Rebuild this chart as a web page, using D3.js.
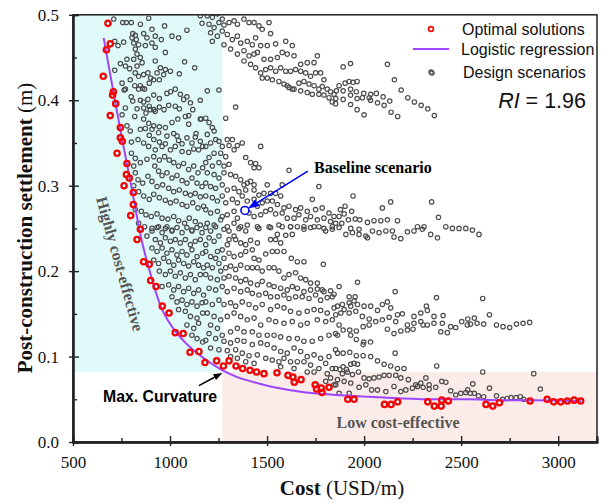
<!DOCTYPE html>
<html>
<head>
<meta charset="utf-8">
<script src="https://cdn.jsdelivr.net/npm/d3@7"></script>
<style>
body { margin: 0; background: #fff; }
svg { display: block; }
</style>
</head>
<body>
<div id="chart"></div>
<script>
// Optimal solutions (red rings), [cost USD/m, settlement m]
var optimalSolutions = [
  [680,0.490],[692,0.466],[672,0.459],[656,0.428],[708,0.410],[704,0.406],[720,0.396],[692,0.382],
  [744,0.368],[744,0.356],[754,0.352],[727,0.338],[778,0.326],[775,0.313],[790,0.309],[763,0.300],
  [811,0.292],[811,0.278],[797,0.265],[847,0.249],[830,0.237],[864,0.211],[893,0.208],[900,0.189],
  [928,0.182],[960,0.159],[995,0.151],[1027,0.128],[1068,0.127],[1103,0.105],[1149,0.106],[1180,0.093],
  [1240,0.095],[1275,0.089],[1304,0.095],[1340,0.089],[1374,0.086],[1412,0.084],[1446,0.082],[1484,0.080],
  [1551,0.081],[1608,0.078],[1633,0.076],[1640,0.070],[1675,0.073],[1748,0.067],[1755,0.062],[1779,0.063],
  [1783,0.058],[1819,0.064],[1916,0.050],[1948,0.050],[2105,0.044],[2139,0.044],[2173,0.047],[2328,0.047],
  [2362,0.042],[2397,0.042],[2400,0.049],[2434,0.048],[2628,0.044],[2663,0.042],[2697,0.046],[2855,0.048],
  [2943,0.050],[2977,0.047],[3013,0.047],[3047,0.048],[3082,0.049],[3116,0.048]
];

// Logistic regression curve
var regressionCost = [658, 700, 750, 800, 850, 900, 950, 1010, 1080, 1175, 1278, 1347, 1433, 1518, 1639, 1742, 1855, 2026, 2197, 2369, 2534, 2706, 2877, 3118];
var regressionSettlement = [0.473, 0.420, 0.358, 0.300, 0.240, 0.196, 0.160, 0.135, 0.116, 0.098, 0.083, 0.076, 0.070, 0.065, 0.060, 0.057, 0.055, 0.053, 0.051, 0.050, 0.050, 0.049, 0.049, 0.048];

// Design scenarios (grey rings), grouped by area of the plot
var designTopBand = [
  [1192,0.499],[1218,0.497],[1244,0.501],[1269,0.495],[1201,0.489],[1227,0.485],[1252,0.491],[1278,0.488],
  [1304,0.491],[1330,0.493],[1347,0.489],[1381,0.495],[1407,0.491],[1433,0.491],[1458,0.487],[1475,0.483],
  [1510,0.491],[1518,0.478],[1209,0.479],[1244,0.475],[1269,0.481],[1295,0.477],[1321,0.471],[1347,0.475],
  [1364,0.467],[1398,0.469],[1424,0.465],[1441,0.473],[1467,0.464],[1501,0.464],[1544,0.466],[1596,0.469],
  [1630,0.464],[1218,0.469],[1278,0.465],[1312,0.460],[1347,0.454],[1381,0.458],[1407,0.452],[1433,0.454],
  [1450,0.456],[1484,0.448],[1518,0.448],[1553,0.450],[1578,0.456],[1604,0.454],[1639,0.452],[1673,0.442],
  [1707,0.444],[1742,0.444],[1759,0.452],[1381,0.446],[1415,0.442],[1441,0.438],[1467,0.432],[1493,0.436],
  [1518,0.438],[1544,0.434],[1570,0.438],[1596,0.434],[1621,0.434],[1647,0.436],[1673,0.434],[1699,0.432],
  [1724,0.428],[1750,0.432],[1776,0.432],[1793,0.424],[1475,0.426],[1501,0.426],[1527,0.424],[1561,0.422],
  [1587,0.419],[1613,0.415],[1639,0.413],[1664,0.420],[1690,0.422],[1716,0.419],[1742,0.417],[1767,0.413],
  [1784,0.416],[1810,0.413],[1827,0.410],[1845,0.407],[1604,0.417],[1630,0.413],[1673,0.411],[1707,0.409],
  [1733,0.407],[1767,0.407],[1793,0.406],[1819,0.403],[1836,0.398],[1853,0.396],
  [1192,0.411],[1252,0.412],[1338,0.392],[1287,0.379],
  [1892,0.439],[1930,0.443],[2120,0.442],[2345,0.433],[1871,0.417],[1902,0.420],[1923,0.422],[1943,0.421],
  [1964,0.422],[1857,0.411],[1892,0.411],[1930,0.413],[1960,0.410],[1998,0.408],[2034,0.407],[2063,0.408],
  [2098,0.404],[2132,0.399],[2156,0.424],[2191,0.412],[1854,0.402],[1892,0.401],[1930,0.406],[1964,0.402],
  [1991,0.403],[2026,0.403],[2033,0.400],[2069,0.397],[2103,0.394],[1930,0.395],[1964,0.389],[2000,0.383],
  [2139,0.386],[2173,0.381],[2225,0.403],[2259,0.398],[2294,0.394],[2328,0.390],[2362,0.382]
];

var designLeftCluster = [
  [710,0.495],[756,0.491],[775,0.491],[800,0.491],[847,0.489],[890,0.496],[972,0.487],[1087,0.482],[1156,0.499],[1165,0.490],
  [808,0.478],[821,0.476],[804,0.473],[826,0.471],[864,0.478],[907,0.483],[924,0.475],[955,0.471],[881,0.473],[907,0.467],
  [873,0.464],[838,0.465],[761,0.468],[732,0.464],[715,0.469],[813,0.467],[924,0.462],[1010,0.475],[1044,0.473],[976,0.456],
  [821,0.460],[830,0.454],[813,0.448],[847,0.450],[856,0.444],[830,0.440],
  [715,0.435],[744,0.443],[778,0.448],[770,0.440],[792,0.437],[821,0.432],[838,0.428],[864,0.430],[886,0.432],[900,0.426],
  [916,0.424],[893,0.420],[924,0.446],[950,0.438],[976,0.436],[1002,0.434],[967,0.430],[933,0.432],[945,0.424],[1048,0.431],
  [1075,0.445],[1127,0.438],[753,0.420],[795,0.424],[818,0.417],[847,0.417],[869,0.413],[838,0.413],[770,0.413],[764,0.412],
  [800,0.404],[859,0.414],[916,0.406],[945,0.402],[984,0.408],[1003,0.410],[1027,0.413],[1053,0.407],[1070,0.401],[1087,0.404],
  [1105,0.397],[1117,0.389],[1156,0.400],[1161,0.378],
  [808,0.399],[847,0.400],[864,0.398],[886,0.401],[893,0.393],[916,0.389],[945,0.392],[969,0.389],[993,0.394],[1027,0.393],
  [1048,0.390],[1079,0.381],[1096,0.382],[898,0.389],[924,0.387],[876,0.385],[864,0.391],[830,0.390],[770,0.391],[753,0.383],
  [818,0.381],[864,0.378],[890,0.373],[916,0.370],[945,0.369],[976,0.368],[1010,0.374],[1040,0.378],[1096,0.372],[1134,0.361],[1156,0.378],
  [778,0.370],[795,0.364],[847,0.366],[873,0.367],[907,0.366],[893,0.359],[941,0.362],[984,0.358],[1019,0.361],[1036,0.358],
  [1044,0.353],[1062,0.349],[1087,0.356],[1113,0.350],[1130,0.357],[1156,0.352],[916,0.354],[945,0.351],[959,0.346],[976,0.349],
  [1002,0.342],[1027,0.346],[1062,0.340],[1096,0.339],[1122,0.343],[1147,0.342],[1168,0.346],[801,0.351],[835,0.354],[864,0.350],
  [890,0.346],[924,0.342],
  [801,0.338],[821,0.332],[847,0.327],[881,0.331],[916,0.334],[945,0.330],[972,0.334],[996,0.330],[1019,0.327],[1044,0.323],
  [1070,0.326],[1096,0.319],[1122,0.323],[1144,0.315],[1168,0.321],[921,0.323],[941,0.317],[959,0.312],[984,0.315],[1010,0.309],
  [1036,0.312],[1062,0.306],[1087,0.303],[1113,0.309],[1139,0.303],[1165,0.299],[813,0.323],[821,0.315],[835,0.307],[859,0.303],
  [886,0.311],[907,0.305],[933,0.299],[962,0.301],[993,0.297],[1019,0.293],[1048,0.295],[1079,0.291],[1105,0.289],[1130,0.291],[1156,0.287],
  [813,0.300],[838,0.293],[864,0.288],[893,0.284],[916,0.290],[945,0.286],[976,0.283],[1002,0.280],[1031,0.282],[1062,0.278],
  [1087,0.276],[1117,0.280],[1144,0.274],[1173,0.276],[821,0.272],[852,0.270],[876,0.266],[903,0.264],[933,0.267],[959,0.262],
  [989,0.261],[1019,0.264],[1044,0.259],[1075,0.256],[1099,0.262],[1130,0.258],[1156,0.254],[838,0.256],[869,0.252],[907,0.250],
  [941,0.252],[976,0.250],[1010,0.248],[1113,0.248],
  [881,0.241],[907,0.247],[933,0.251],[959,0.245],[984,0.252],[1010,0.247],[1036,0.251],[1062,0.245],[1087,0.251],[1113,0.247],
  [1139,0.251],[1165,0.245],[924,0.237],[950,0.233],[976,0.239],[1002,0.235],[1027,0.237],[1053,0.233],[1079,0.237],[1105,0.231],
  [1130,0.235],[1156,0.237],[907,0.227],[933,0.223],[959,0.227],[984,0.221],[1010,0.225],[1036,0.219],[1062,0.223],[1087,0.219],
  [1113,0.225],[1139,0.217],[1168,0.221],[916,0.213],[941,0.209],[967,0.215],[993,0.211],[1019,0.207],[1044,0.213],[1070,0.209],
  [1096,0.206],[1122,0.211],[1147,0.207],[1173,0.204],[945,0.200],[976,0.196],[1002,0.200],[1027,0.194],[1053,0.198],[1079,0.192],
  [1105,0.196],[1130,0.190],[1156,0.196],[959,0.182],[993,0.184],[1019,0.178],[1044,0.182],[1070,0.176],[1096,0.180],[1122,0.174],
  [1147,0.178],[1173,0.172],[1010,0.170],[1036,0.164],[1062,0.166],[1087,0.161],[1113,0.164],[1139,0.159],[1165,0.163],
  [1044,0.155],[1079,0.153],[1105,0.147],[1139,0.145],[1168,0.151],[1087,0.137],[1122,0.133],[1147,0.139],
  [1113,0.125],[1139,0.121],[1168,0.117]
];

var designCentreBand = [
  [1184,0.379],[1201,0.374],[1218,0.368],[1192,0.360],[1227,0.364],[1235,0.354],[1209,0.350],[1184,0.346],[1252,0.352],[1269,0.346],
  [1295,0.354],[1321,0.354],[1304,0.347],[1330,0.342],[1347,0.347],[1372,0.350],[1467,0.346],[1261,0.338],[1287,0.334],[1227,0.338],
  [1201,0.333],[1184,0.327],[1218,0.323],[1252,0.327],[1278,0.323],[1304,0.325],[1390,0.333],[1415,0.327],[1441,0.326],[1458,0.321],
  [1433,0.321],[1192,0.315],[1227,0.313],[1252,0.309],[1278,0.315],[1312,0.313],[1338,0.311],[1364,0.307],[1398,0.303],[1381,0.301],
  [1415,0.305],[1433,0.301],[1613,0.318],[1184,0.303],[1209,0.299],[1235,0.297],[1269,0.301],[1295,0.295],[1330,0.297],[1355,0.293],
  [1390,0.295],[1433,0.295],[1458,0.289],[1484,0.291],[1501,0.301],[1518,0.291],[1544,0.291],[1570,0.288],[1578,0.301],[1767,0.299],
  [1184,0.288],[1218,0.286],[1244,0.282],[1269,0.288],[1287,0.280],[1321,0.284],[1347,0.280],[1372,0.288],[1398,0.282],[1433,0.284],
  [1450,0.276],[1475,0.280],[1501,0.282],[1527,0.282],[1553,0.278],[1587,0.274],[1613,0.276],[1647,0.272],[1673,0.274],[1707,0.270],
  [1733,0.284],[1750,0.272],[1784,0.274],[1819,0.268],[1845,0.264],[1184,0.272],[1209,0.268],[1244,0.270],[1269,0.264],[1295,0.266],
  [1330,0.270],[1347,0.262],[1407,0.268],[1433,0.264],[1467,0.266],[1493,0.270],[1518,0.272],[1544,0.267],[1578,0.268],[1604,0.262],
  [1639,0.262],[1664,0.266],[1699,0.260],[1724,0.264],[1759,0.260],[1793,0.262],[1827,0.258],[1853,0.256],[1192,0.256],[1227,0.254],
  [1261,0.260],[1295,0.252],[1330,0.256],[1364,0.252],[1398,0.254],[1458,0.250],[1510,0.252],[1561,0.254],[1621,0.252],[1690,0.252],
  [1742,0.252],[1793,0.250],[1836,0.252],
  [1943,0.288],[1878,0.272],[1902,0.276],[1936,0.270],[1871,0.264],[1897,0.267],[1919,0.260],[1954,0.261],[1978,0.260],[1885,0.256],
  [2017,0.257],[2051,0.259],[2086,0.259],[2120,0.260],[2137,0.281],[2094,0.274],[2172,0.259],[2348,0.281],[2383,0.263],
  [1184,0.251],[1209,0.247],[1235,0.252],[1201,0.239],[1227,0.235],[1184,0.231],[1252,0.241],[1278,0.249],[1304,0.247],[1330,0.241],
  [1355,0.250],[1390,0.247],[1450,0.252],[1518,0.251],[1553,0.243],[1596,0.242],[1630,0.243],[1578,0.252],[1621,0.252],[1656,0.252],
  [1690,0.249],[1724,0.251],[1767,0.252],[1802,0.247],[1836,0.249],[1304,0.237],[1338,0.237],[1364,0.233],[1390,0.231],[1415,0.236],
  [1450,0.233],[1518,0.237],[1544,0.237],[1570,0.233],[1295,0.231],[1269,0.225],[1244,0.223],
  [1184,0.223],[1209,0.217],[1235,0.215],[1192,0.207],[1218,0.204],[1252,0.209],[1278,0.215],[1304,0.221],[1330,0.217],[1364,0.219],
  [1390,0.223],[1424,0.225],[1433,0.215],[1458,0.213],[1493,0.220],[1527,0.223],[1553,0.223],[1587,0.223],[1625,0.215],[1656,0.211],
  [1690,0.211],[1790,0.208],[1261,0.200],[1287,0.204],[1312,0.206],[1338,0.202],[1364,0.207],[1398,0.204],[1424,0.204],[1450,0.204],
  [1475,0.200],[1510,0.204],[1536,0.204],[1561,0.200],[1587,0.192],[1613,0.196],[1647,0.198],[1673,0.192],[1699,0.190],[1724,0.186],
  [1759,0.186],[1784,0.178],[1827,0.177],[1184,0.196],[1209,0.192],[1244,0.190],[1278,0.192],[1304,0.194],[1338,0.192],[1364,0.188],
  [1390,0.190],[1415,0.186],[1450,0.184],[1475,0.188],[1510,0.184],[1536,0.182],[1570,0.180],[1604,0.178],[1630,0.182],[1656,0.180],
  [1690,0.176],[1724,0.178],[1759,0.179],[1793,0.176],[1836,0.170],[1201,0.180],[1235,0.178],[1269,0.182],[1295,0.176],[1330,0.180],
  [1364,0.176],[1398,0.178],[1424,0.174],[1458,0.172],[1493,0.174],[1518,0.170],[1553,0.170],[1587,0.172],[1613,0.168],[1647,0.170],
  [1681,0.170],[1716,0.168],[1750,0.172],[1776,0.166],[1810,0.169],[1845,0.173],
  [1184,0.164],[1218,0.161],[1252,0.166],[1278,0.161],[1312,0.163],[1338,0.159],[1372,0.164],[1407,0.161],[1441,0.157],[1475,0.161],
  [1518,0.155],[1553,0.159],[1587,0.157],[1621,0.153],[1664,0.151],[1707,0.153],[1742,0.155],[1776,0.154],[1810,0.151],[1845,0.157],
  [1192,0.151],[1227,0.147],[1261,0.143],[1295,0.147],[1330,0.151],[1364,0.147],[1398,0.143],[1433,0.145],[1467,0.137],[1510,0.143],
  [1544,0.141],[1587,0.139],[1630,0.141],[1673,0.137],[1707,0.139],[1759,0.143],[1802,0.141],[1836,0.143],
  [1209,0.137],[1244,0.133],[1201,0.127],[1235,0.121],[1269,0.125],[1312,0.129],[1347,0.133],[1381,0.129],[1424,0.129],[1458,0.125],
  [1501,0.125],[1536,0.125],[1570,0.123],[1613,0.121],[1656,0.121],[1690,0.118],[1733,0.118],[1776,0.121],[1819,0.125],[1853,0.127],
  [1184,0.119],[1278,0.118],[1312,0.116],[1347,0.119],[1381,0.118],[1424,0.114],[1467,0.116],[1501,0.114],[1536,0.110],[1570,0.106],
  [1604,0.104],[1639,0.110],[1673,0.106],[1707,0.100],[1742,0.102],[1776,0.098],[1819,0.100],[1853,0.108],[1209,0.110],[1252,0.108],
  [1295,0.107],[1338,0.108],[1372,0.104],[1407,0.101],[1450,0.102],[1493,0.098],[1527,0.096],[1561,0.094],[1587,0.098],[1621,0.094],
  [1656,0.094],[1690,0.094],[1724,0.090],[1767,0.086],[1802,0.092],[1836,0.086],[1312,0.100],[1347,0.098],[1390,0.094],[1433,0.092],
  [1570,0.088],[1639,0.086],[1707,0.082],[1742,0.082],[1810,0.080],[1827,0.075],[1845,0.067],[1802,0.071]
];

var designRightBands = [
  [1871,0.251],[1906,0.243],[1940,0.245],[1974,0.243],[2009,0.241],[2043,0.247],[2077,0.245],[2112,0.247],[2146,0.247],[2189,0.238],
  [2223,0.246],[2257,0.247],[2300,0.249],[2343,0.243],[2378,0.239],[2421,0.252],[2455,0.250],[2489,0.250],[2524,0.250],[1931,0.250],
  [1974,0.249],[2017,0.239],[2154,0.240],[2275,0.252],[2309,0.252],[2558,0.248],[2592,0.243],
  [1871,0.182],[1966,0.187],[2160,0.176],[2373,0.169],[1923,0.170],[1954,0.170],[1888,0.161],[1923,0.163],[1948,0.165],[1863,0.159],
  [1897,0.155],[1931,0.159],[1966,0.161],[2000,0.159],[2034,0.159],[2069,0.154],[2094,0.161],[2120,0.164],[2137,0.157],[2172,0.149],
  [2197,0.150],[2257,0.147],[2292,0.151],[2321,0.159],[2326,0.154],[2360,0.147],[2407,0.148],[1854,0.149],[1880,0.151],[1923,0.151],
  [1957,0.153],[1991,0.147],[2026,0.144],[2060,0.141],[2094,0.143],[2129,0.146],[2163,0.141],[2223,0.137],[2257,0.139],[2292,0.141],
  [2326,0.137],[2360,0.139],[2403,0.139],[2446,0.135],[2472,0.134],[2503,0.141],[2532,0.137],[1892,0.131],[1926,0.131],[1960,0.130],
  [1995,0.135],[2026,0.137],[2120,0.132],[2154,0.127],[2189,0.130],[2223,0.131],[2252,0.132],[2304,0.137],[2395,0.129],[2429,0.128],
  [1931,0.125],[1960,0.120],[1998,0.117],[2033,0.117],[1995,0.114],[1871,0.137],[1863,0.125],
  [2611,0.168],[2534,0.144],[2568,0.145],[2548,0.138],[2582,0.139],[2616,0.138],[2646,0.149],[2682,0.137],[2716,0.135],[2750,0.134],
  [2785,0.138],[2819,0.139],[2853,0.140],
  [1863,0.104],[1892,0.104],[1926,0.105],[1960,0.101],[1995,0.101],[2034,0.100],[2069,0.095],[2103,0.091],[2137,0.089],[2172,0.086],
  [2206,0.086],[2160,0.104],[1854,0.086],[1875,0.085],[1892,0.088],[1909,0.085],[1931,0.091],[1948,0.092],[1966,0.091],[1888,0.080],
  [1914,0.082],[1940,0.079],[1971,0.082],[2000,0.075],[2026,0.074],[2051,0.075],[2077,0.076],[2103,0.078],[2129,0.078],[2163,0.078],
  [2189,0.075],[2228,0.073],[2266,0.067],[2292,0.069],[2318,0.075],[2335,0.067],[2369,0.064],[2400,0.071],[2421,0.070],[2446,0.060],
  [2472,0.055],[2498,0.057],[2524,0.058],[1863,0.073],[1897,0.071],[1931,0.069],[1974,0.064],[2009,0.067],[2039,0.061],[2069,0.061],
  [2112,0.059],[2154,0.065],[2189,0.059],[2215,0.061],[2249,0.063],[2275,0.065],[2304,0.064],[2335,0.062],[2374,0.089],[1923,0.057],
  [1871,0.057],[1854,0.067],
  [2611,0.082],[2560,0.068],[2646,0.063],[2534,0.061],[2548,0.057],[2568,0.057],[2589,0.054],[2616,0.053],[2682,0.054],[2714,0.050],
  [2737,0.051],[2757,0.052],[2783,0.052],[2805,0.053],[2822,0.050],[2874,0.080],[2908,0.062]
];

var baselineScenario = [1386, 0.271];
var maxCurvature = [1270, 0.082];
var xTicks = [500, 1000, 1500, 2000, 2500, 3000];
var xMinorTicks = [750, 1250, 1750, 2250, 2750];
var yTicks = [0, 0.1, 0.2, 0.3, 0.4, 0.5];
var yMinorTicks = [0.05, 0.15, 0.25, 0.35, 0.45];

var serif = "'Liberation Serif', 'Times New Roman', serif";
var sans = "'Liberation Sans', Arial, sans-serif";

var margin = { top: 14.8, right: 5, bottom: 62, left: 73 },
    width = 602 - margin.left - margin.right,
    height = 504 - margin.top - margin.bottom;

var svg = d3.select("#chart")
  .append("svg")
  .attr("width", 602)
  .attr("height", 504)
  .append("g")
  .attr("transform", "translate(" + margin.left + "," + margin.top + ")");

var x = d3.scaleLinear().domain([500, 3200]).range([0, width]);
var y = d3.scaleLinear().domain([0, 0.5]).range([height, 0]);

svg.append("clipPath").attr("id", "plotClip")
  .append("rect").attr("width", width).attr("height", height);

// shaded zones either side of the max. curvature point
svg.append("rect")
  .attr("x", x(500)).attr("y", y(0.5))
  .attr("width", x(maxCurvature[0]) - x(500))
  .attr("height", y(maxCurvature[1]) - y(0.5))
  .attr("fill", "#e0fafa");
svg.append("rect")
  .attr("x", x(maxCurvature[0])).attr("y", y(maxCurvature[1]))
  .attr("width", x(3200) - x(maxCurvature[0]))
  .attr("height", y(0) - y(maxCurvature[1]))
  .attr("fill", "#fbebe9");

var plot = svg.append("g").attr("clip-path", "url(#plotClip)");

var allDesign = designTopBand.concat(designLeftCluster, designCentreBand, designRightBands, optimalSolutions);

plot.selectAll(".design")
  .data(allDesign)
  .enter()
  .append("circle")
  .attr("class", "design")
  .attr("cx", function (d) { return x(d[0]); })
  .attr("cy", function (d) { return y(d[1]); })
  .attr("r", 2.2)
  .attr("fill", "none")
  .attr("stroke", "#4d4d4d")
  .attr("stroke-width", 1.2);

var curveData = regressionCost.map(function (c, i) { return [c, regressionSettlement[i]]; });
plot.append("path")
  .datum(curveData)
  .attr("fill", "none")
  .attr("stroke", "#9d45ff")
  .attr("stroke-width", 2)
  .attr("d", d3.line()
    .x(function (d) { return x(d[0]); })
    .y(function (d) { return y(d[1]); })
    .curve(d3.curveMonotoneX));

plot.selectAll(".optimal")
  .data(optimalSolutions)
  .enter()
  .append("circle")
  .attr("class", "optimal")
  .attr("cx", function (d) { return x(d[0]); })
  .attr("cy", function (d) { return y(d[1]); })
  .attr("r", 2.8)
  .attr("fill", "none")
  .attr("stroke", "#ff0000")
  .attr("stroke-width", 2);

// baseline scenario
svg.append("circle")
  .attr("cx", x(baselineScenario[0]))
  .attr("cy", y(baselineScenario[1]))
  .attr("r", 4)
  .attr("fill", "#fff")
  .attr("stroke", "#0000ff")
  .attr("stroke-width", 1.6);

function arrow(x1, y1, x2, y2, color, headLen, headW) {
  var a = Math.atan2(y2 - y1, x2 - x1);
  var bx = x2 - headLen * Math.cos(a), by = y2 - headLen * Math.sin(a);
  svg.append("line")
    .attr("x1", x1).attr("y1", y1).attr("x2", bx).attr("y2", by)
    .attr("stroke", color).attr("stroke-width", 1.6);
  var px = -Math.sin(a) * headW / 2, py = Math.cos(a) * headW / 2;
  svg.append("path")
    .attr("d", "M" + x2 + "," + y2 + "L" + (bx + px) + "," + (by + py) + "L" + (bx - px) + "," + (by - py) + "Z")
    .attr("fill", color);
}

arrow(x(1710), y(0.317), x(baselineScenario[0]) + 3, y(baselineScenario[1]) - 2, "#0000ff", 11, 8);
arrow(x(1149), y(0.066), x(maxCurvature[0]), y(maxCurvature[1]) + 1, "#000", 9, 6.5);

svg.append("text")
  .attr("x", 314 - margin.left).attr("y", 173 - margin.top)
  .style("font-family", serif).style("font-weight", "bold").style("font-size", "16px")
  .text("Baseline scenario");

svg.append("text")
  .attr("x", 103 - margin.left).attr("y", 402 - margin.top)
  .style("font-family", sans).style("font-weight", "bold").style("font-size", "15.8px")
  .text("Max. Curvature");

svg.append("text")
  .attr("transform", "translate(" + (120 - margin.left) + "," + (264 - margin.top) + ") rotate(74.4)")
  .attr("text-anchor", "middle")
  .attr("dominant-baseline", "central")
  .style("font-family", serif).style("font-weight", "bold").style("font-size", "16px")
  .attr("fill", "#555")
  .text("Highly cost-effective");

svg.append("text")
  .attr("x", 398 - margin.left).attr("y", 428 - margin.top)
  .attr("text-anchor", "middle")
  .style("font-family", serif).style("font-weight", "bold").style("font-size", "16px")
  .attr("fill", "#555")
  .text("Low cost-effective");

// axes: outward ticks with labels, plus inward ticks
svg.append("g")
  .attr("transform", "translate(0," + height + ")")
  .call(d3.axisBottom(x).tickValues(xTicks).tickSizeInner(4).tickSizeOuter(0).tickPadding(10).tickFormat(d3.format("d")));
svg.append("g")
  .attr("transform", "translate(0," + height + ")")
  .call(d3.axisBottom(x).tickValues(xTicks).tickSize(-6).tickFormat(""));
svg.append("g")
  .attr("transform", "translate(0," + height + ")")
  .call(d3.axisBottom(x).tickValues(xMinorTicks).tickSize(-4).tickFormat(""));

svg.append("g")
  .call(d3.axisLeft(y).tickValues(yTicks).tickSizeInner(4).tickSizeOuter(0).tickPadding(10).tickFormat(d3.format(".1f")));
svg.append("g")
  .call(d3.axisLeft(y).tickValues(yTicks).tickSize(-6).tickFormat(""));
svg.append("g")
  .call(d3.axisLeft(y).tickValues(yMinorTicks).tickSize(-4).tickFormat(""));

svg.selectAll(".domain").attr("stroke", "#222").attr("stroke-width", 1.8);
svg.selectAll(".tick line").attr("stroke", "#222").attr("stroke-width", 1.4);
svg.selectAll(".tick text")
  .style("font-family", serif).style("font-size", "17px").attr("fill", "#111");

// frame
svg.append("rect")
  .attr("width", width).attr("height", height)
  .attr("fill", "none").attr("stroke", "#222").attr("stroke-width", 1.5);

// axis titles
var xTitle = svg.append("text")
  .attr("x", 342 - margin.left).attr("y", 495 - margin.top)
  .attr("text-anchor", "middle")
  .style("font-family", serif).style("font-size", "21px").attr("fill", "#111");
xTitle.append("tspan").style("font-weight", "bold").text("Cost");
xTitle.append("tspan").text(" (USD/m)");

var yTitle = svg.append("text")
  .attr("transform", "translate(" + (32 - margin.left) + "," + (228 - margin.top) + ") rotate(-90)")
  .attr("text-anchor", "middle")
  .style("font-family", serif).style("font-size", "21px").attr("fill", "#111");
yTitle.append("tspan").style("font-weight", "bold").text("Post-construction settlement");
yTitle.append("tspan").text(" (m)");

// legend
var legend = svg.append("g").attr("transform", "translate(" + (-margin.left) + "," + (-margin.top) + ")");
legend.append("circle").attr("cx", 431).attr("cy", 29).attr("r", 2.4)
  .attr("fill", "none").attr("stroke", "#ff0000").attr("stroke-width", 1.6);
legend.append("line").attr("x1", 413).attr("x2", 449).attr("y1", 49).attr("y2", 49)
  .attr("stroke", "#9d45ff").attr("stroke-width", 2);
legend.append("circle").attr("cx", 432).attr("cy", 73).attr("r", 2.2)
  .attr("fill", "none").attr("stroke", "#4d4d4d").attr("stroke-width", 1.2);
var legendLabels = ["Optimal solutions", "Logistic regression", "Design scenarios"];
var legendY = [35, 55, 78];
var legendX = [462, 461, 463];
legendLabels.forEach(function (t, i) {
  legend.append("text").attr("x", legendX[i]).attr("y", legendY[i])
    .style("font-family", sans).style("font-size", "16px").attr("fill", "#111")
    .text(t);
});
var ri = legend.append("text").attr("x", 586).attr("y", 108)
  .attr("text-anchor", "end")
  .style("font-family", sans).style("font-size", "21.5px").attr("fill", "#111");
ri.append("tspan").style("font-style", "italic").text("RI");
ri.append("tspan").text(" = 1.96");
</script>
</body>
</html>
